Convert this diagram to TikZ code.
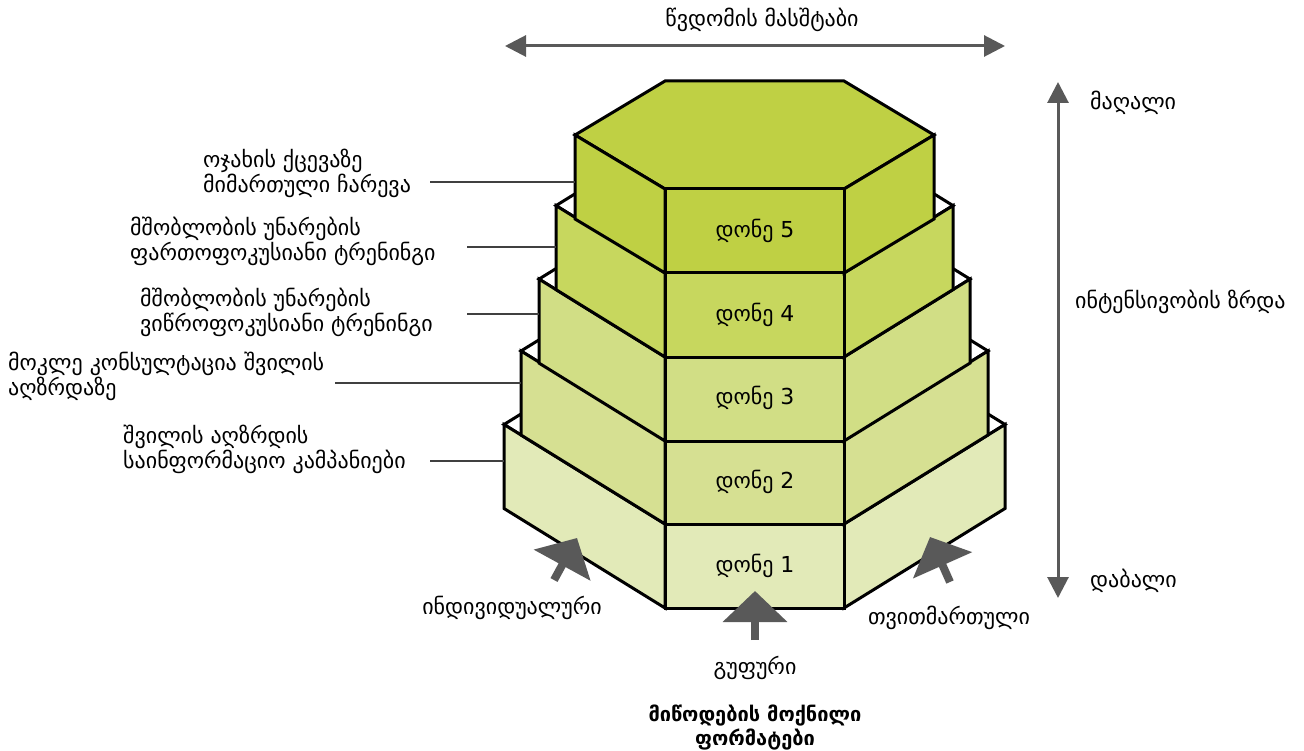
\documentclass[tikz,border=0pt]{standalone}
\usepackage{fontspec}
\setmainfont{DejaVu Sans}
\usetikzlibrary{arrows.meta}

\definecolor{tierA}{HTML}{E2EAB8}
\definecolor{tierB}{HTML}{D6E092}
\definecolor{tierC}{HTML}{D1DE85}
\definecolor{tierD}{HTML}{C7D75E}
\definecolor{tierE}{HTML}{BFD044}
\definecolor{arrowgray}{HTML}{595959}

% One hexagonal tier: #1 top edge y, #2 side depth x, #3 side rise y,
% #4 face colour, #5 colour of the top surface
\newcommand\drawtier[5]{%
  \path[edge, fill=#5] (665,#1) -- (844,#1) -- ({844+#2},{#1-#3}) -- (844,{#1-2*#3})
        -- (665,{#1-2*#3}) -- ({665-#2},{#1-#3}) -- cycle;
  \path[edge, fill=#4] (665,{#1+84}) -- (665,#1) -- ({665-#2},{#1-#3}) -- ({665-#2},{#1+84-#3}) -- cycle;
  \path[edge, fill=#4] (844,{#1+84}) -- (844,#1) -- ({844+#2},{#1-#3}) -- ({844+#2},{#1+84-#3}) -- cycle;
  \path[edge, fill=#4] (665,#1) rectangle (844,{#1+84});
}

\begin{document}
\begin{tikzpicture}[x=1pt,y=-1pt,
  edge/.style={draw=black, line width=3pt, line join=miter},
  txt/.style={font=\fontsize{22}{25}\selectfont, inner sep=0pt},
  lbl/.style={txt, align=left, anchor=west},
  lead/.style={draw=black!75, line width=1.1pt},
  scalearrow/.style={draw=arrowgray, line width=3pt,
    {Triangle[length=21pt,width=21pt]}-{Triangle[length=21pt,width=21pt]}},
  blockarrow/.style={draw=arrowgray, line width=8pt, -{Triangle[length=31pt,width=63pt]}}]
\useasboundingbox (0,0) rectangle (1304,751);

% stacked tiers, bottom to top (side faces share one slope)
\drawtier{524}{161}{99.5}{tierA}{white}
\drawtier{440}{144}{89}{tierB}{white}
\drawtier{357}{126}{77.9}{tierC}{white}
\drawtier{273}{109}{67.4}{tierD}{white}
\drawtier{189}{90}{54}{tierE}{tierE}

% level names on the front faces
\node[txt] (lv1) at (755,566) {დონე 1};
\node[txt] (lv2) at (755,482) {დონე 2};
\node[txt] (lv3) at (755,398) {დონე 3};
\node[txt] (lv4) at (755,315) {დონე 4};
\node[txt] (lv5) at (755,231) {დონე 5};

% descriptions on the left with leader lines
\node[lbl] (d5) at (203,173) {ოჯახის ქცევაზე\\მიმართული ჩარევა};
\node[lbl] (d4) at (130,241) {მშობლობის უნარების\\ფართოფოკუსიანი ტრენინგი};
\node[lbl] (d3) at (140,312) {მშობლობის უნარების\\ვიწროფოკუსიანი ტრენინგი};
\node[lbl] (d2) at (8,376) {მოკლე კონსულტაცია შვილის\\აღზრდაზე};
\node[lbl] (d1) at (123,449) {შვილის აღზრდის\\საინფორმაციო კამპანიები};

\coordinate (s5) at (430,182);  \coordinate (e5) at (575,182);
\coordinate (s4) at (467,247);  \coordinate (e4) at (556,247);
\coordinate (s3) at (467,314);  \coordinate (e3) at (539,314);
\coordinate (s2) at (335,383);  \coordinate (e2) at (521,383);
\coordinate (s1) at (430,461);  \coordinate (e1) at (504,461);
\draw[lead] (s5) -- (e5);
\draw[lead] (s4) -- (e4);
\draw[lead] (s3) -- (e3);
\draw[lead] (s2) -- (e2);
\draw[lead] (s1) -- (e1);

% reach scale
\node[txt] (reach) at (762,20) {წვდომის მასშტაბი};
\coordinate (hl) at (505,46);
\coordinate (hr) at (1005,46);
\draw[scalearrow] (hl) -- (hr);

% intensity scale
\coordinate (vt) at (1058,82);
\coordinate (vb) at (1058,598);
\draw[scalearrow] (vb) -- (vt);
\node[lbl] (high) at (1090,103) {მაღალი};
\node[lbl] (grow) at (1075,302) {ინტენსივობის ზრდა};
\node[lbl] (low) at (1090,581) {დაბალი};

% delivery formats
\coordinate (at1) at (554,580);  \coordinate (ah1) at (577,538);
\coordinate (at2) at (755,640);  \coordinate (ah2) at (755,591);
\coordinate (at3) at (950,582);  \coordinate (ah3) at (930,537);
\draw[blockarrow] (at1) -- (ah1);
\draw[blockarrow] (at2) -- (ah2);
\draw[blockarrow] (at3) -- (ah3);
\node[txt] (indiv) at (512,608) {ინდივიდუალური};
\node[txt] (self) at (949,618) {თვითმართული};
\node[txt] (group) at (755,668) {გუფური};
\node[txt, font=\fontsize{20}{24}\selectfont\bfseries, align=center] (formats) at (755,728)
  {მიწოდების მოქნილი\\ფორმატები};
\end{tikzpicture}
\end{document}
